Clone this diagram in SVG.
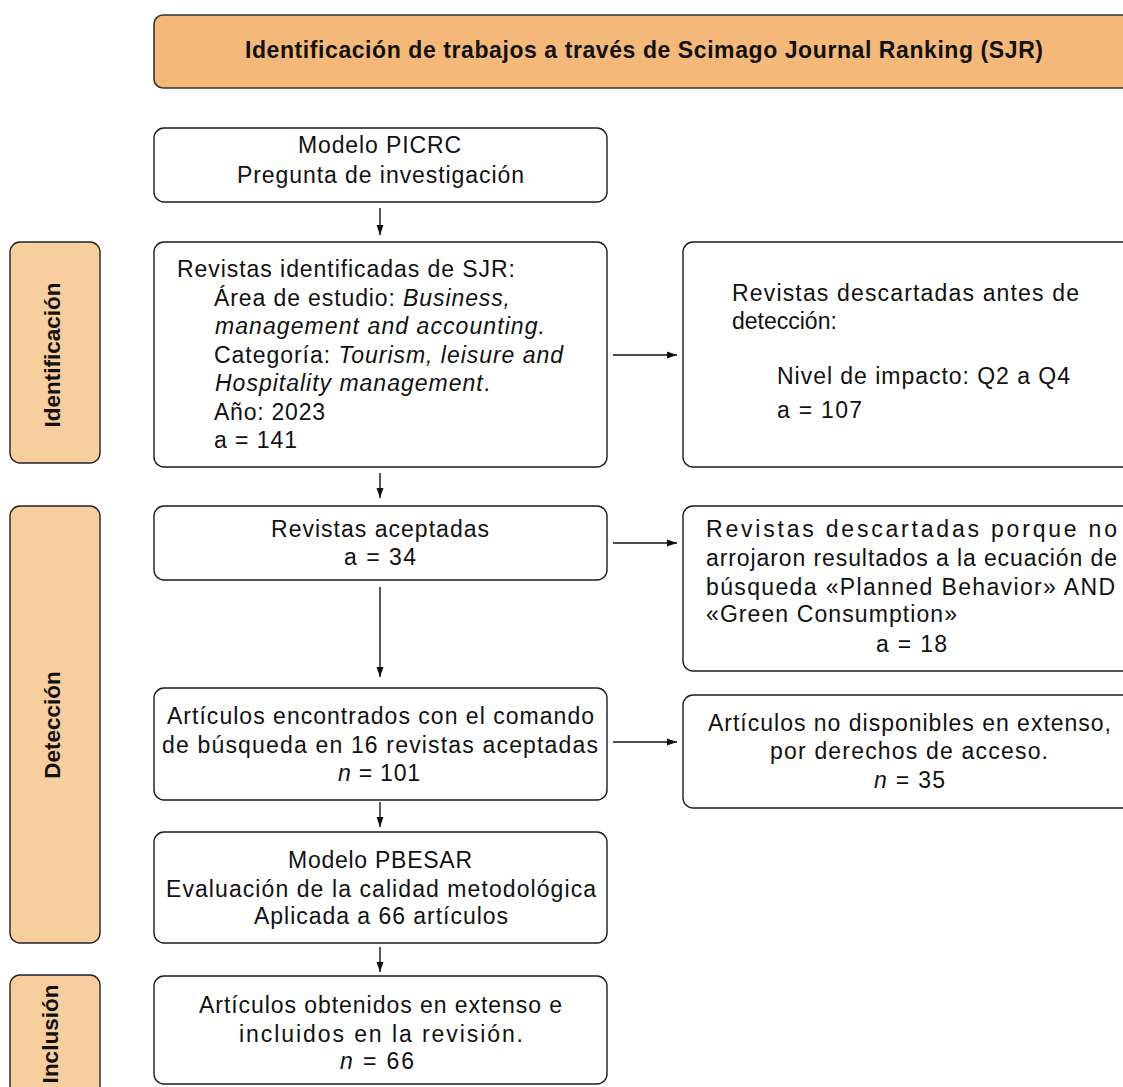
<svg xmlns="http://www.w3.org/2000/svg" width="1123" height="1087" viewBox="0 0 1123 1087">
<defs>
<style>
.box{fill:#fff;stroke:#1a1a1a;stroke-width:1.4}
.banner{fill:#F4B878;stroke:#333;stroke-width:1.6}
.lab{fill:#F7CE9E;stroke:#222;stroke-width:1.4}
.t{font-family:"Liberation Sans",Arial,sans-serif;font-size:23px;fill:#111}
.b{font-family:"Liberation Sans",Arial,sans-serif;font-size:22.5px;font-weight:bold;fill:#111}
.h{font-size:23px}
.i{font-style:italic}
.con{stroke:#111;stroke-width:1.4;fill:none}
</style>
<marker id="ah" viewBox="0 0 10 10" refX="10" refY="5" markerWidth="10" markerHeight="10" markerUnits="userSpaceOnUse" orient="auto">
<path d="M0,1.5 L10,5 L0,8.5 Z" fill="#111"/>
</marker>
</defs>

<g id="banner">
<rect class="banner" x="154" y="15" width="990" height="73" rx="9"/>
<text class="b h" x="245" y="58" textLength="798" lengthAdjust="spacing">Identificación de trabajos a través de Scimago Journal Ranking (SJR)</text>
</g>

<g id="label-identificacion">
<rect class="lab" x="10" y="242" width="90" height="221" rx="10"/>
<text class="b" transform="translate(59.5,355) rotate(-90)" text-anchor="middle">Identificación</text>
</g>
<g id="label-deteccion">
<rect class="lab" x="10" y="506" width="90" height="437" rx="10"/>
<text class="b" transform="translate(59.5,725) rotate(-90)" text-anchor="middle">Detección</text>
</g>
<g id="label-inclusion">
<rect class="lab" x="10" y="975" width="90" height="125" rx="10"/>
<text class="b" transform="translate(58,1034) rotate(-90)" text-anchor="middle">Inclusión</text>
</g>

<g id="picrc">
<rect class="box" x="154" y="128" width="453" height="74" rx="10"/>
<text class="t" x="298" y="153" textLength="163" lengthAdjust="spacing">Modelo PICRC</text>
<text class="t" x="237" y="183" textLength="287" lengthAdjust="spacing">Pregunta de investigación</text>
</g>

<g id="revistas-identificadas">
<rect class="box" x="154" y="242" width="453" height="225" rx="10"/>
<text class="t" x="177" y="277" textLength="338" lengthAdjust="spacing">Revistas identificadas de SJR:</text>
<text class="t" x="214" y="305.5" textLength="296" lengthAdjust="spacing">Área de estudio: <tspan class="i">Business,</tspan></text>
<text class="t i" x="215" y="334" textLength="330" lengthAdjust="spacing">management and accounting.</text>
<text class="t" x="214" y="362.5" textLength="349" lengthAdjust="spacing">Categoría: <tspan class="i">Tourism, leisure and</tspan></text>
<text class="t" x="215" y="391" textLength="275" lengthAdjust="spacing"><tspan class="i">Hospitality management</tspan>.</text>
<text class="t" x="214" y="419.5" textLength="111" lengthAdjust="spacing">Año: 2023</text>
<text class="t" x="214" y="448" textLength="83" lengthAdjust="spacing">a = 141</text>
</g>

<g id="descartadas-antes">
<rect class="box" x="683" y="242" width="455" height="225" rx="10"/>
<text class="t" x="732" y="301" textLength="347" lengthAdjust="spacing">Revistas descartadas antes de</text>
<text class="t" x="732" y="329">detección:</text>
<text class="t" x="777" y="384" textLength="293" lengthAdjust="spacing">Nivel de impacto: Q2 a Q4</text>
<text class="t" x="777" y="418" textLength="85" lengthAdjust="spacing">a = 107</text>
</g>

<g id="revistas-aceptadas">
<rect class="box" x="154" y="506" width="453" height="74" rx="10"/>
<text class="t" x="271" y="537" textLength="218" lengthAdjust="spacing">Revistas aceptadas</text>
<text class="t" x="344" y="565" textLength="72" lengthAdjust="spacing">a = 34</text>
</g>

<g id="descartadas-ecuacion">
<rect class="box" x="683" y="506" width="455" height="165" rx="10"/>
<text class="t" x="706" y="537" textLength="411" lengthAdjust="spacing">Revistas descartadas porque no</text>
<text class="t" x="706" y="566" textLength="411" lengthAdjust="spacing">arrojaron resultados a la ecuación de</text>
<text class="t" x="706" y="595" textLength="409" lengthAdjust="spacing">búsqueda «Planned Behavior» AND</text>
<text class="t" x="706" y="622" textLength="251" lengthAdjust="spacing">«Green Consumption»</text>
<text class="t" x="876" y="652" textLength="71" lengthAdjust="spacing">a = 18</text>
</g>

<g id="articulos-encontrados">
<rect class="box" x="154" y="688" width="453" height="112" rx="10"/>
<text class="t" x="167" y="724" textLength="427" lengthAdjust="spacing">Artículos encontrados con el comando</text>
<text class="t" x="162" y="752.5" textLength="436" lengthAdjust="spacing">de búsqueda en 16 revistas aceptadas</text>
<text class="t" x="338" y="780.5" textLength="82" lengthAdjust="spacing"><tspan class="i">n</tspan> = 101</text>
</g>

<g id="no-disponibles">
<rect class="box" x="683" y="695" width="455" height="113" rx="10"/>
<text class="t" x="708" y="731" textLength="403" lengthAdjust="spacing">Artículos no disponibles en extenso,</text>
<text class="t" x="770" y="759" textLength="278" lengthAdjust="spacing">por derechos de acceso.</text>
<text class="t" x="874" y="788" textLength="71" lengthAdjust="spacing"><tspan class="i">n</tspan> = 35</text>
</g>

<g id="pbesar">
<rect class="box" x="154" y="832" width="453" height="111" rx="10"/>
<text class="t" x="288" y="868" textLength="184" lengthAdjust="spacing">Modelo PBESAR</text>
<text class="t" x="166" y="897" textLength="430" lengthAdjust="spacing">Evaluación de la calidad metodológica</text>
<text class="t" x="254" y="924" textLength="254" lengthAdjust="spacing">Aplicada a 66 artículos</text>
</g>

<g id="incluidos">
<rect class="box" x="154" y="976" width="453" height="108" rx="10"/>
<text class="t" x="199" y="1013" textLength="363" lengthAdjust="spacing">Artículos obtenidos en extenso e</text>
<text class="t" x="239" y="1042" textLength="284" lengthAdjust="spacing">incluidos en la revisión.</text>
<text class="t" x="340" y="1069" textLength="74" lengthAdjust="spacing"><tspan class="i">n</tspan> = 66</text>
</g>

<g id="connectors">
<line class="con" x1="380" y1="208" x2="380" y2="235" marker-end="url(#ah)"/>
<line class="con" x1="380" y1="473" x2="380" y2="498" marker-end="url(#ah)"/>
<line class="con" x1="380" y1="587" x2="380" y2="677" marker-end="url(#ah)"/>
<line class="con" x1="380" y1="802" x2="380" y2="827" marker-end="url(#ah)"/>
<line class="con" x1="380" y1="947" x2="380" y2="972" marker-end="url(#ah)"/>
<line class="con" x1="613" y1="355" x2="677" y2="355" marker-end="url(#ah)"/>
<line class="con" x1="613" y1="543" x2="677" y2="543" marker-end="url(#ah)"/>
<line class="con" x1="613" y1="742" x2="677" y2="742" marker-end="url(#ah)"/>
</g>
</svg>
